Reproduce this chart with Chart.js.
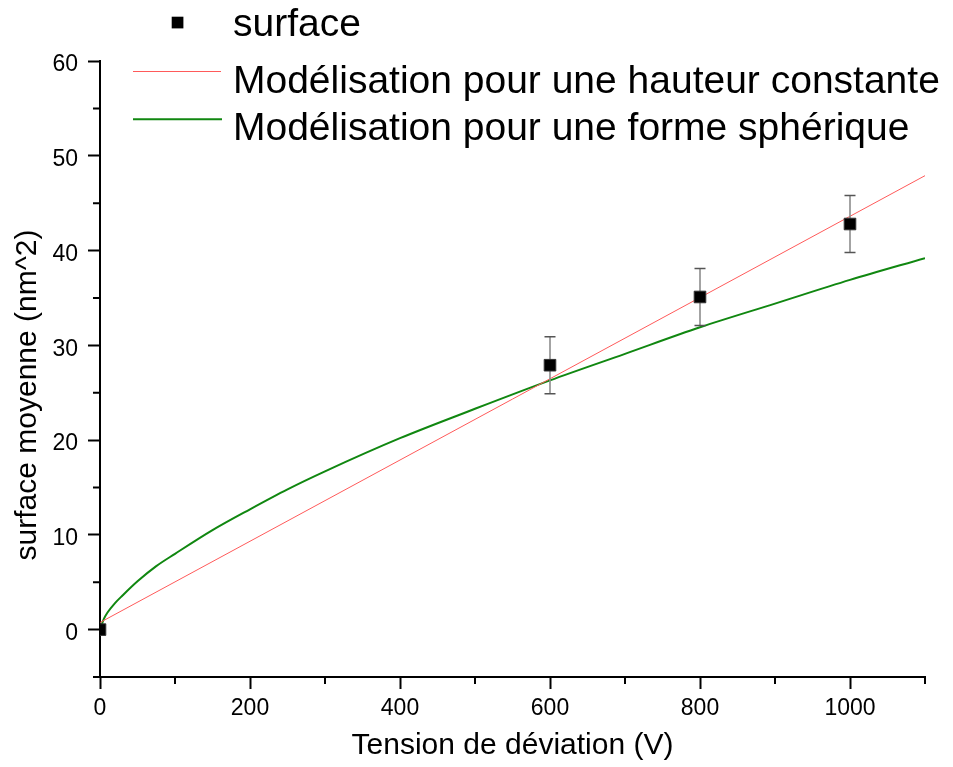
<!DOCTYPE html>
<html>
<head>
<meta charset="utf-8">
<script src="https://cdn.jsdelivr.net/npm/chart.js@4.4.1/dist/chart.umd.min.js"></script>
<style>
  html, body { margin: 0; padding: 0; background: #fff; }
  #wrap { width: 953px; height: 767px; }
</style>
</head>
<body>
<div id="wrap"><canvas id="c" width="953" height="767"></canvas></div>
<script>
// ---- data ----
const voltage = [0, 600, 800, 1000];
const surface = [0, 27.9, 35.1, 42.8];
const surfaceErr = [0, 3.0, 3.0, 3.0];

const constHeightX = [0, 1100];
const constHeightY = [0.75, 47.9];

const sphereX = [0, 5, 10, 20, 30, 50, 75, 100, 150, 200, 250, 300, 400, 500, 600, 700, 800, 900, 1000, 1100];
const sphereY = [0, 1.1, 1.8, 2.8, 3.6, 5.1, 6.7, 8.0, 10.5, 12.7, 14.8, 16.7, 20.2, 23.3, 26.3, 29.1, 31.9, 34.4, 36.9, 39.2];

const xTickLabels = [0, 200, 400, 600, 800, 1000];
const xMinorTicks = [100, 300, 500, 700, 900, 1100];
const yTickLabels = [0, 10, 20, 30, 40, 50, 60];
const yMinorTicks = [-5, 5, 15, 25, 35, 45, 55];

const labels = ['surface', 'Modélisation pour une hauteur constante', 'Modélisation pour une forme sphérique'];
const xTitle = 'Tension de déviation (V)';
const yTitle = 'surface moyenne (nm^2)';

const FONT = "'Liberation Sans', Arial, Helvetica, sans-serif";
const RED = 'rgb(255,90,90)';
const GREEN = 'rgb(16,135,16)';

const extras = {
  id: 'extras',
  beforeDatasetDraw(chart, args) {
    if (args.index !== 0) return;
    const {ctx, scales: {x, y}} = chart;
    ctx.save();
    voltage.forEach((v, i) => {
      const e = surfaceErr[i];
      if (!e) return;
      const px = x.getPixelForValue(v);
      const pt = y.getPixelForValue(surface[i] + e);
      const pb = y.getPixelForValue(surface[i] - e);
      ctx.strokeStyle = '#8c8c8c';
      ctx.lineWidth = 1.6;
      ctx.beginPath(); ctx.moveTo(px, pt); ctx.lineTo(px, pb); ctx.stroke();
      ctx.strokeStyle = '#555';
      ctx.lineWidth = 1.5;
      ctx.beginPath();
      ctx.moveTo(px - 5.5, pt); ctx.lineTo(px + 5.5, pt);
      ctx.moveTo(px - 5.5, pb); ctx.lineTo(px + 5.5, pb);
      ctx.stroke();
    });
    ctx.restore();
  },
  afterDraw(chart) {
    const {ctx, scales: {x, y}, chartArea} = chart;
    ctx.save();
    // minor ticks
    ctx.strokeStyle = '#000';
    ctx.lineWidth = 2;
    ctx.beginPath();
    xMinorTicks.forEach(v => {
      const px = x.getPixelForValue(v);
      ctx.moveTo(px, chartArea.bottom); ctx.lineTo(px, chartArea.bottom + 7);
    });
    yMinorTicks.forEach(v => {
      const py = y.getPixelForValue(v);
      ctx.moveTo(chartArea.left - 7, py); ctx.lineTo(chartArea.left, py);
    });
    ctx.stroke();

    // y axis title
    ctx.fillStyle = '#000';
    ctx.font = '30px ' + FONT;
    ctx.textAlign = 'center';
    ctx.textBaseline = 'middle';
    ctx.save();
    ctx.translate(27.6, 395);
    ctx.rotate(-Math.PI / 2);
    ctx.fillText(yTitle, 0, 0);
    ctx.restore();

    // legend
    const ds = chart.data.datasets;
    ctx.font = '39px ' + FONT;
    ctx.textAlign = 'left';
    ctx.textBaseline = 'alphabetic';
    ctx.fillStyle = '#000';
    ctx.fillRect(171.7, 16.7, 11.7, 11.7);
    ctx.fillText(ds[0].label, 233, 36);
    ctx.strokeStyle = ds[1].borderColor;
    ctx.lineWidth = 1;
    ctx.beginPath(); ctx.moveTo(133, 71.5); ctx.lineTo(221, 71.5); ctx.stroke();
    ctx.fillText(ds[1].label, 233, 93);
    ctx.strokeStyle = ds[2].borderColor;
    ctx.lineWidth = 2;
    ctx.beginPath(); ctx.moveTo(133, 119.3); ctx.lineTo(222, 119.3); ctx.stroke();
    ctx.fillText(ds[2].label, 233, 140);
    ctx.restore();
  }
};

new Chart(document.getElementById('c'), {
  type: 'scatter',
  data: {
    datasets: [
      {
        label: labels[0],
        data: voltage.map((v, i) => ({x: v, y: surface[i]})),
        pointStyle: 'rect',
        pointRadius: 8.2,
        backgroundColor: '#000',
        borderColor: '#333',
        borderWidth: 1,
        showLine: false
      },
      {
        label: labels[1],
        type: 'line',
        data: constHeightX.map((v, i) => ({x: v, y: constHeightY[i]})),
        borderColor: RED,
        borderWidth: 1,
        pointRadius: 0,
        fill: false
      },
      {
        label: labels[2],
        type: 'line',
        data: sphereX.map((v, i) => ({x: v, y: sphereY[i]})),
        borderColor: GREEN,
        borderWidth: 2,
        pointRadius: 0,
        fill: false,
        cubicInterpolationMode: 'monotone'
      }
    ]
  },
  options: {
    responsive: false,
    animation: false,
    devicePixelRatio: 1,
    layout: {padding: {top: 61, right: 28, left: 0, bottom: 0}},
    plugins: {legend: {display: false}, tooltip: {enabled: false}},
    scales: {
      x: {
        type: 'linear', min: 0, max: 1100,
        afterBuildTicks: s => { s.ticks = xTickLabels.map(v => ({value: v})); },
        afterFit: s => { s.height = 90; },
        grid: {drawOnChartArea: false, tickLength: 12, tickWidth: 2, tickColor: '#000'},
        border: {color: '#000', width: 2},
        ticks: {color: '#000', font: {family: FONT, size: 23}, padding: 6, maxRotation: 0, autoSkip: false,
                callback: v => String(v)},
        title: {display: true, text: xTitle, color: '#000', font: {family: FONT, size: 30}, padding: {top: 0, bottom: 3}}
      },
      y: {
        type: 'linear', min: -5, max: 60,
        afterBuildTicks: s => { s.ticks = yTickLabels.map(v => ({value: v})); },
        afterFit: s => { s.width = 100; },
        grid: {drawOnChartArea: false, tickLength: 12, tickWidth: 2, tickColor: '#000'},
        border: {color: '#000', width: 2},
        ticks: {color: '#000', font: {family: FONT, size: 23}, padding: 10, labelOffset: 4, autoSkip: false,
                callback: v => String(v)}
      }
    }
  },
  plugins: [extras]
});
</script>
</body>
</html>
